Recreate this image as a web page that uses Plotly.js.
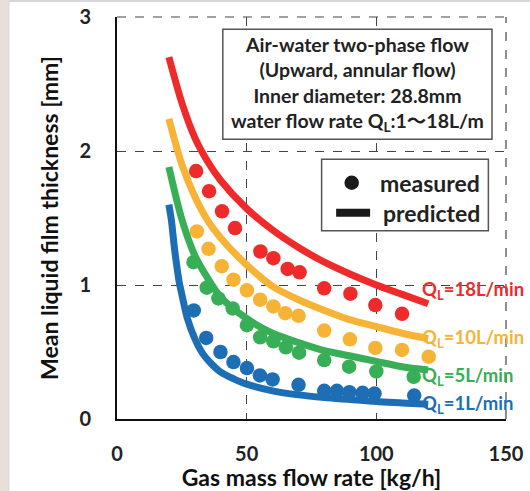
<!DOCTYPE html>
<html>
<head>
<meta charset="utf-8">
<script src="https://cdn.plot.ly/plotly-3.0.1.min.js"></script>
<style>html,body{margin:0;padding:0;background:#fff;}#chart{width:530px;height:491px;}</style>
</head>
<body>
<div id="chart"></div>
<script>
// ---- data ----
const seriesNames = ["18L/min", "10L/min", "5L/min", "1L/min"];
const seriesColors = ["#EE2A2B", "#F6B335", "#38AE57", "#1E6EB6"];

// predicted curves
const predX18 = [20, 25, 30, 35, 40, 50, 60, 70, 80, 90, 100, 110, 120];
const predY18 = [2.70, 2.36, 2.10, 1.92, 1.78, 1.57, 1.41, 1.28, 1.17, 1.08, 1.00, 0.93, 0.86];
const predX10 = [20, 25, 30, 35, 40, 50, 60, 70, 80, 90, 100, 110, 120];
const predY10 = [2.24, 1.90, 1.66, 1.48, 1.35, 1.15, 0.99, 0.89, 0.81, 0.74, 0.69, 0.64, 0.60];
const predX5 = [20, 25, 30, 35, 40, 50, 60, 70, 80, 90, 100, 110, 120];
const predY5 = [1.88, 1.49, 1.22, 1.05, 0.91, 0.75, 0.64, 0.57, 0.51, 0.47, 0.43, 0.39, 0.365];
const predX1 = [20, 21, 22, 23, 24, 25, 27, 30, 33, 36, 40, 45, 50, 60, 70, 80, 90, 100, 110, 120];
const predY1 = [1.60, 1.48, 1.30, 1.15, 1.02, 0.93, 0.76, 0.60, 0.49, 0.42, 0.35, 0.30, 0.26, 0.21, 0.18, 0.16, 0.145, 0.13, 0.12, 0.11];

// measured points
const measX18 = [30.5, 35.5, 40.5, 45.5, 55.3, 60.3, 65.8, 70.4, 79.9, 90.0, 99.6, 109.9];
const measY18 = [1.85, 1.70, 1.55, 1.425, 1.25, 1.20, 1.12, 1.095, 0.975, 0.935, 0.85, 0.785];
const measX10 = [30.8, 35.3, 40.4, 44.9, 50.1, 55.2, 60.3, 64.9, 70.0, 79.9, 89.8, 99.6, 109.9, 120.2];
const measY10 = [1.40, 1.27, 1.14, 1.04, 0.96, 0.89, 0.84, 0.79, 0.77, 0.66, 0.595, 0.53, 0.515, 0.465];
const measX5 = [29.5, 34.6, 39.1, 44.6, 50.1, 55.2, 60.3, 65.1, 70.2, 79.9, 89.5, 100.0, 114.4];
const measY5 = [1.17, 0.98, 0.90, 0.825, 0.70, 0.61, 0.58, 0.535, 0.495, 0.44, 0.39, 0.355, 0.315];
const measX1 = [29.6, 34.4, 39.9, 44.9, 50.1, 55.1, 60.0, 70.0, 79.9, 84.8, 89.6, 94.7, 99.3, 114.6];
const measY1 = [0.81, 0.605, 0.50, 0.425, 0.38, 0.325, 0.295, 0.255, 0.21, 0.21, 0.20, 0.195, 0.19, 0.175];

const xTicks = [0, 50, 100, 150];
const yTicks = [0, 1, 2, 3];

const infoLines = ["Air-water two-phase flow", "(Upward, annular flow)", "Inner diameter: 28.8mm", "water flow rate Q<sub>L</sub>:1\u301C18L/m"];
const legendLabels = ["measured", "predicted"];

// ---- build ----
const FONT = "Lato, 'Noto Sans CJK JP', sans-serif";
const preds = [[predX18, predY18], [predX10, predY10], [predX5, predY5], [predX1, predY1]];
const meas = [[measX18, measY18], [measX10, measY10], [measX5, measY5], [measX1, measY1]];
const labelShift = [13, 0, -6, 0];

const traces = [];
preds.forEach((p, i) => {
  traces.push({x: p[0], y: p[1], type: "scatter", mode: "lines", name: "predicted " + seriesNames[i],
    line: {color: seriesColors[i], width: 7, shape: "spline", smoothing: 0.8}, showlegend: false, hoverinfo: "skip"});
});
meas.forEach((m, i) => {
  traces.push({x: m[0], y: m[1], type: "scatter", mode: "markers", name: "measured " + seriesNames[i],
    marker: {color: seriesColors[i], size: 14.5}, showlegend: false});
});

const annotations = [];
preds.forEach((p, i) => {
  const n = p[0].length;
  annotations.push({x: p[0][n - 1], y: p[1][n - 1], xref: "x", yref: "y", xanchor: "left", yanchor: "middle",
    xshift: -8, yshift: labelShift[i], showarrow: false,
    text: "<b>Q<sub>L</sub>=" + seriesNames[i] + "</b>", font: {family: FONT, size: 18.5, color: seriesColors[i], weight: 700}});
});
annotations.push({x: 92.7, y: 2.50, xref: "x", yref: "y", xanchor: "center", yanchor: "middle", showarrow: false,
  text: infoLines.map(s => "<b>" + s + "</b>").join("<br>"), align: "center",
  font: {family: FONT, size: 19.5, color: "#222", weight: 700}});
annotations.push({x: 140.6, y: 1.763, xref: "x", yref: "y", xanchor: "right", yanchor: "middle", showarrow: false,
  text: "<b>" + legendLabels[0] + "</b>", font: {family: FONT, size: 23, color: "#222", weight: 700}});
annotations.push({x: 140.6, y: 1.54, xref: "x", yref: "y", xanchor: "right", yanchor: "middle", showarrow: false,
  text: "<b>" + legendLabels[1] + "</b>", font: {family: FONT, size: 23, color: "#222", weight: 700}});

const shapes = [
  // dashed top and right frame
  {type: "line", xref: "paper", yref: "paper", x0: 0, x1: 1, y0: 1, y1: 1, line: {color: "#444", width: 1.2, dash: "dash"}},
  {type: "line", xref: "paper", yref: "paper", x0: 1, x1: 1, y0: 0, y1: 1, line: {color: "#444", width: 1.2, dash: "dash"}},
  // info box
  {type: "rect", xref: "x", yref: "y", x0: 40.8, x1: 144.6, y0: 2.087, y1: 2.908, fillcolor: "#fff", line: {color: "#555", width: 1.5}, layer: "above"},
  // legend box
  {type: "rect", xref: "x", yref: "y", x0: 78.9, x1: 143.2, y0: 1.405, y1: 1.938, fillcolor: "#fff", line: {color: "#555", width: 1.5}, layer: "above"},
  {type: "circle", xref: "x", yref: "y", x0: 90.5 - 2.8, x1: 90.5 + 2.8, y0: 1.763 - 0.054, y1: 1.763 + 0.054, fillcolor: "#1a1a1a", line: {width: 0}, layer: "above"},
  {type: "rect", xref: "x", yref: "y", x0: 84.5, x1: 97.6, y0: 1.510, y1: 1.569, fillcolor: "#1a1a1a", line: {width: 0}, layer: "above"},
  // page edge decorations
  {type: "rect", xref: "paper", yref: "paper", x0: -0.3008, x1: -0.2776, y0: -0.2, y1: 1.05, fillcolor: "#E8E0D8", line: {width: 0}, layer: "below"},
  {type: "line", xref: "paper", yref: "paper", x0: -0.2776, x1: -0.2776, y0: -0.2, y1: 1.04, line: {color: "#D8D8E2", width: 1}, layer: "below"},
  {type: "line", xref: "paper", yref: "paper", x0: -0.2776, x1: 1.07, y0: 1.0398, y1: 1.0398, line: {color: "#D6D6DC", width: 2}, layer: "below"}
];

const axisCommon = {showgrid: true, griddash: "dash", gridcolor: "#444", gridwidth: 1, zeroline: false,
  showline: true, linecolor: "#111", linewidth: 2, ticks: "outside", tickcolor: "rgba(0,0,0,0)", fixedrange: true,
  tickfont: {family: FONT, size: 20, color: "#222", weight: 700}};

const layout = {
  width: 530, height: 491,
  margin: {l: 117, r: 24, t: 17, b: 72},
  paper_bgcolor: "#fff", plot_bgcolor: "#fff",
  showlegend: false,
  xaxis: Object.assign({}, axisCommon, {range: [0, 150], tickvals: xTicks, ticktext: xTicks.map(String), ticklen: 16,
    title: {text: "<b>Gas mass flow rate [kg/h]</b>", font: {family: FONT, size: 23, color: "#111", weight: 700}, standoff: 6}}),
  yaxis: Object.assign({}, axisCommon, {range: [0, 3], tickvals: yTicks, ticktext: yTicks.map(String), ticklen: 20,
    title: {text: "<b>Mean liquid film thickness [mm]</b>", font: {family: FONT, size: 23, color: "#111", weight: 700}, standoff: 14}}),
  annotations: annotations,
  shapes: shapes
};

Plotly.newPlot("chart", traces, layout, {staticPlot: true, displayModeBar: false});
</script>
</body>
</html>
